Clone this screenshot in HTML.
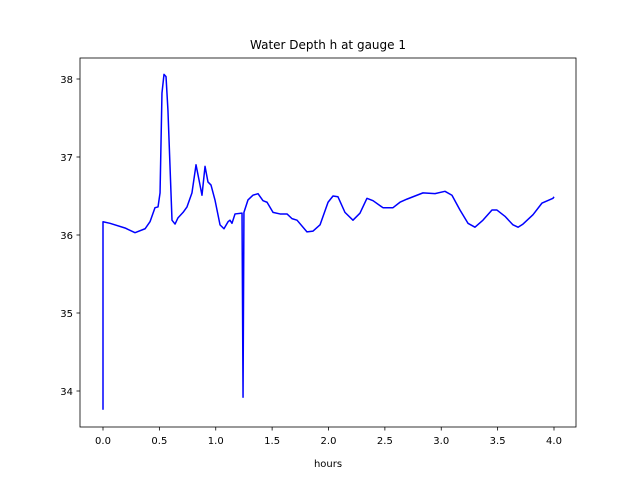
<!DOCTYPE html>
<html><head><meta charset="utf-8"><style>
body{margin:0;background:#fff}
svg{display:block;font-family:"DejaVu Sans","Liberation Sans",sans-serif}
</style></head><body>
<svg width="640" height="480">
<rect width="640" height="480" fill="#fff"/>
<g id="plot"></g>
</svg>
<script>
const times=[0,0,.062,.195,.284,.373,.417,.461,.488,.506,.523,.541,.559,.576,.603,.612,.639,.665,.710,.745,.789,.825,.851,.878,.905,.931,.958,.993,1.038,1.073,1.109,1.126,1.144,1.171,1.233,1.242,1.250,1.286,1.330,1.375,1.419,1.455,1.508,1.570,1.632,1.676,1.721,1.809,1.863,1.925,1.996,2.040,2.084,2.146,2.217,2.279,2.341,2.395,2.483,2.572,2.634,2.696,2.838,2.945,3.033,3.095,3.166,3.237,3.299,3.370,3.450,3.494,3.565,3.636,3.681,3.725,3.814,3.894,3.991,4.0];
const depths=[33.76,36.17,36.15,36.09,36.03,36.08,36.17,36.35,36.36,36.54,37.82,38.06,38.03,37.60,36.54,36.19,36.14,36.22,36.29,36.36,36.54,36.90,36.71,36.51,36.88,36.68,36.64,36.45,36.13,36.08,36.17,36.19,36.15,36.27,36.28,33.92,36.29,36.45,36.51,36.53,36.44,36.42,36.29,36.27,36.27,36.21,36.19,36.04,36.05,36.13,36.42,36.50,36.49,36.29,36.19,36.28,36.47,36.44,36.35,36.35,36.42,36.46,36.54,36.53,36.56,36.51,36.32,36.15,36.10,36.19,36.32,36.32,36.24,36.13,36.10,36.14,36.26,36.41,36.47,36.49];
const xTicks=[0,0.5,1,1.5,2,2.5,3,3.5,4];
const xTickLabels=["0.0","0.5","1.0","1.5","2.0","2.5","3.0","3.5","4.0"];
const yTicks=[34,35,36,37,38];
const yTickLabels=["34","35","36","37","38"];
const L=80,R=576,T=58,B=427;
const X=t=>103+t*112.75;
const Y=h=>79+(38-h)*78;
const NS="http://www.w3.org/2000/svg";
const g=document.getElementById('plot');
function mk(tag,attrs,parent){const e=document.createElementNS(NS,tag);for(const k in attrs)e.setAttribute(k,attrs[k]);(parent||g).appendChild(e);return e;}
const line=mk('polyline',{points:times.map((t,i)=>X(t).toFixed(2)+','+Y(depths[i]).toFixed(2)).join(' '),fill:'none',stroke:'#0000ff','stroke-width':1.5,'stroke-linejoin':'round'});


const frame=mk('rect',{x:L,y:T,width:R-L,height:B-T,fill:'none',stroke:'#000','stroke-width':0.8});


xTicks.forEach((v,i)=>{
  mk('line',{x1:X(v),x2:X(v),y1:B,y2:B+3.5,stroke:'#000','stroke-width':0.8});
  const t=mk('text',{x:X(v),y:B+17,'font-size':10,'text-anchor':'middle',fill:'#000'});
  t.textContent=xTickLabels[i];
  
  
});
yTicks.forEach((v,i)=>{
  mk('line',{x1:L-3.5,x2:L,y1:Y(v),y2:Y(v),stroke:'#000','stroke-width':0.8});
  const t=mk('text',{x:L-7,y:Y(v)+4,'font-size':10,'text-anchor':'end',fill:'#000'});
  t.textContent=yTickLabels[i];
  
  
});
const ti=mk('text',{x:328,y:49,'font-size':12,'text-anchor':'middle',fill:'#000'});
ti.textContent='Water Depth h at gauge 1';


const xl=mk('text',{x:328,y:467,'font-size':10,'text-anchor':'middle',fill:'#000'});
xl.textContent='hours';


</script>
</body></html>
